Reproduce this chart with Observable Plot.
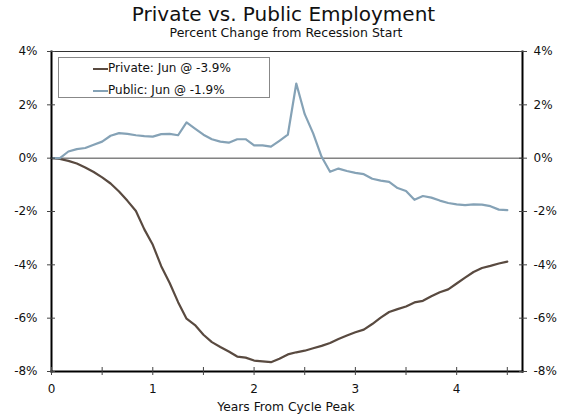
<!DOCTYPE html>
<html>
<head>
<meta charset="utf-8">
<script src="https://cdn.jsdelivr.net/npm/d3@7"></script>
<script src="https://cdn.jsdelivr.net/npm/@observablehq/plot@0.6"></script>
<style>
  body { margin: 0; background: #fff; font-family: "DejaVu Sans", Verdana, sans-serif; }
  #wrap { position: relative; width: 569px; height: 414px; overflow: hidden; }
  #head { position: relative; height: 44px; }
  #title { position: absolute; left: 0; width: 567px; text-align: center; top: 3.8px; font-size: 20px; line-height: 20px; color: #111; white-space: nowrap; }
  #subtitle { position: absolute; left: 0; width: 572px; text-align: center; top: 26.7px; font-size: 12.5px; line-height: 12.5px; color: #111; white-space: nowrap; }
  #legend { position: absolute; left: 58px; top: 57px; width: 212px; height: 41px; border: 1px solid #888; box-sizing: border-box; background: #fff; }
  .row { position: absolute; left: 0; height: 12px; width: 210px; }
  .sw { position: absolute; left: 34px; width: 15px; height: 2px; }
  .lt { position: absolute; left: 49px; top: 0; font-size: 12px; line-height: 12px; color: #111; white-space: nowrap; }
  svg { display: block; }
</style>
</head>
<body>
<div id="wrap">
  <div id="head">
    <div id="title">Private vs. Public Employment</div>
    <div id="subtitle">Percent Change from Recession Start</div>
  </div>
  <div id="chart"></div>
  <div id="legend"></div>
</div>
<script>
// Month index from the cycle peak (Dec 2007), 0..54
const months = d3.range(0, 55);

// Private employment, % change from recession start
const privateValues = [
  0, -0.03, -0.1, -0.2, -0.35, -0.52, -0.72, -0.95, -1.25, -1.6,
  -1.98, -2.67, -3.25, -4.05, -4.68, -5.4, -6.02, -6.26, -6.62, -6.9,
  -7.08, -7.25, -7.44, -7.48, -7.59, -7.62, -7.65, -7.52, -7.36, -7.28,
  -7.22, -7.13, -7.04, -6.93, -6.78, -6.65, -6.53, -6.43, -6.22, -5.98,
  -5.77, -5.66, -5.56, -5.41, -5.35, -5.18, -5.03, -4.92, -4.7, -4.48,
  -4.27, -4.12, -4.04, -3.95, -3.88
];

// Public employment, % change from recession start
const publicValues = [
  0, 0, 0.25, 0.34, 0.38, 0.5, 0.62, 0.84, 0.94, 0.91,
  0.86, 0.83, 0.81, 0.9, 0.91, 0.86, 1.34, 1.11, 0.88, 0.71,
  0.62, 0.58, 0.71, 0.71, 0.48, 0.48, 0.43, 0.65, 0.88, 2.8,
  1.65, 0.93, 0.05, -0.51, -0.39, -0.48, -0.55, -0.6, -0.77, -0.84,
  -0.89, -1.12, -1.23, -1.56, -1.42, -1.48, -1.59, -1.68, -1.73, -1.76,
  -1.73, -1.74, -1.8, -1.93, -1.95
];

const seriesNames = ["Private: Jun @ -3.9%", "Public: Jun @ -1.9%"];
const seriesColors = ["#594a40", "#85a2b6"];

const yTicks = [-8, -6, -4, -2, 0, 2, 4];
const xTicks = [0, 1, 2, 3, 4];
const xMinorTicks = [0, 0.5, 1, 1.5, 2, 2.5, 3, 3.5, 4, 4.5];
const xTitle = "Years From Cycle Peak";

const data = [];
months.forEach((m, i) => {
  data.push({series: seriesNames[0], year: m / 12, value: privateValues[i]});
  data.push({series: seriesNames[1], year: m / 12, value: publicValues[i]});
});

const chart = Plot.plot({
  width: 569,
  height: 370,
  marginTop: 7,
  marginBottom: 43,
  marginLeft: 51,
  marginRight: 47,
  style: { fontFamily: "DejaVu Sans, Verdana, sans-serif", fontSize: "12px", color: "#111", background: "#fff" },
  x: { domain: [0, 4.65], label: null },
  y: { domain: [-8, 4], label: null },
  color: { domain: seriesNames, range: seriesColors },
  marks: [
    Plot.ruleY([0], { stroke: "#444", strokeWidth: 1 }),
    Plot.line(data, { x: "year", y: "value", z: "series", stroke: "series", strokeWidth: 2.2 }),
    Plot.frame({ stroke: "#333", strokeWidth: 1 }),
    Plot.frame({ anchor: "left", stroke: "#000", strokeWidth: 2 }),
    Plot.frame({ anchor: "right", stroke: "#000", strokeWidth: 2 }),
    Plot.frame({ anchor: "bottom", stroke: "#000", strokeWidth: 2 }),
    Plot.axisY(yTicks, { anchor: "left", tickSize: 8, dx: 4, tickFormat: () => "", stroke: "#444" }),
    Plot.axisY(yTicks, { anchor: "right", tickSize: 8, dx: -4, tickFormat: () => "", stroke: "#444" }),
    Plot.axisY(yTicks, { anchor: "left", tickSize: 0, tickPadding: 14, tickFormat: d => d + "%" }),
    Plot.axisY(yTicks, { anchor: "right", tickSize: 0, tickPadding: 11, tickFormat: d => d + "%" }),
    Plot.axisX(xMinorTicks, { anchor: "bottom", tickSize: 8, dy: -4, tickFormat: () => "", stroke: "#444" }),
    Plot.axisX(xTicks, { anchor: "bottom", tickSize: 0, tickPadding: 13, tickFormat: d => String(d) }),
    Plot.text([xTitle], { text: d => d, frameAnchor: "bottom", dy: 36, dx: -1, lineAnchor: "middle", fontSize: 12.3, fill: "#111" })
  ]
});
document.getElementById("chart").appendChild(chart);

// Legend (HTML overlay inside the plot area)
const legend = document.getElementById("legend");
const rowTops = [4, 26];
seriesNames.forEach((name, i) => {
  const row = document.createElement("div");
  row.className = "row";
  row.style.top = rowTops[i] + "px";
  const sw = document.createElement("div");
  sw.className = "sw";
  sw.style.top = "6px";
  sw.style.background = seriesColors[i];
  const lt = document.createElement("div");
  lt.className = "lt";
  lt.textContent = name;
  row.appendChild(sw);
  row.appendChild(lt);
  legend.appendChild(row);
});
</script>
</body>
</html>
